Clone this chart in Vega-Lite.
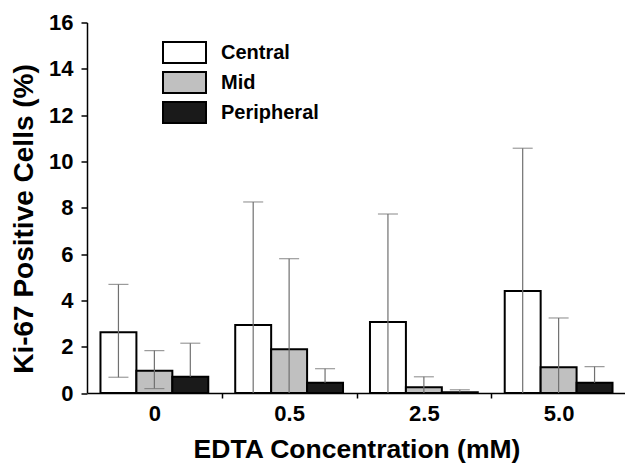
{
  "$schema": "https://vega.github.io/schema/vega-lite/v6.json",
  "width": 539,
  "height": 370.5,
  "autosize": {"type": "none"},
  "padding": {"left": 87, "top": 22.5, "right": 0, "bottom": 81},
  "background": "white",
  "config": {"view": {"stroke": null}, "font": "Liberation Sans"},
  "data": {
    "values": [
      {"conc": "0", "region": "Central", "mean": 2.62, "lo": 0.68, "hi": 4.69, "locap": 0.68},
      {"conc": "0", "region": "Mid", "mean": 0.96, "lo": 0.19, "hi": 1.83, "locap": 0.19},
      {"conc": "0", "region": "Peripheral", "mean": 0.7, "lo": 0.7, "hi": 2.15, "locap": null},
      {"conc": "0.5", "region": "Central", "mean": 2.94, "lo": 0, "hi": 8.25, "locap": null},
      {"conc": "0.5", "region": "Mid", "mean": 1.89, "lo": 0, "hi": 5.8, "locap": null},
      {"conc": "0.5", "region": "Peripheral", "mean": 0.44, "lo": 0.44, "hi": 1.05, "locap": null},
      {"conc": "2.5", "region": "Central", "mean": 3.07, "lo": 0, "hi": 7.73, "locap": null},
      {"conc": "2.5", "region": "Mid", "mean": 0.25, "lo": 0, "hi": 0.7, "locap": null},
      {"conc": "2.5", "region": "Peripheral", "mean": 0.03, "lo": 0.03, "hi": 0.14, "locap": null},
      {"conc": "5.0", "region": "Central", "mean": 4.4, "lo": 0, "hi": 10.57, "locap": null},
      {"conc": "5.0", "region": "Mid", "mean": 1.11, "lo": 0, "hi": 3.24, "locap": null},
      {"conc": "5.0", "region": "Peripheral", "mean": 0.44, "lo": 0.44, "hi": 1.14, "locap": null}
    ]
  },
  "encoding": {
    "x": {
      "field": "conc",
      "type": "nominal",
      "sort": ["0", "0.5", "2.5", "5.0"],
      "title": "EDTA Concentration (mM)",
      "scale": {"paddingInner": 0, "paddingOuter": 0},
      "axis": {
        "labelAngle": 0,
        "domainColor": "black",
        "domainWidth": 1.5,
        "tickColor": "black",
        "tickWidth": 1.5,
        "tickSize": 5,
        "tickOffset": 67.375,
        "labelOffset": -67.375,
        "labelFontSize": 22,
        "labelFontWeight": "bold",
        "labelColor": "black",
        "labelPadding": 5,
        "titleFontSize": 26.5,
        "titleFontWeight": "bold",
        "titleColor": "black",
        "titlePadding": 12
      }
    },
    "xOffset": {
      "field": "region",
      "type": "nominal",
      "sort": ["Central", "Mid", "Peripheral"],
      "scale": {"paddingInner": 0, "paddingOuter": 0.375}
    }
  },
  "layer": [
    {
      "mark": {"type": "bar", "stroke": "black", "strokeWidth": 2},
      "encoding": {
        "y": {
          "field": "mean",
          "type": "quantitative",
          "title": "Ki-67 Positive Cells (%)",
          "scale": {"domain": [0, 16], "nice": false},
          "axis": {
            "values": [0, 2, 4, 6, 8, 10, 12, 14, 16],
            "grid": false,
            "domainColor": "black",
            "domainWidth": 1.5,
            "tickColor": "black",
            "tickWidth": 1.5,
            "tickSize": 6,
            "labelFontSize": 22,
            "labelFontWeight": "bold",
            "labelColor": "black",
            "labelPadding": 8,
            "titleFontSize": 28,
            "titleFontWeight": "bold",
            "titleColor": "black",
            "titlePadding": 10,
            "titleY": 196
          }
        },
        "fill": {
          "field": "region",
          "type": "nominal",
          "scale": {"domain": ["Central", "Mid", "Peripheral"], "range": ["#ffffff", "#c0c0c0", "#1a1a1a"]},
          "legend": {
            "orient": "none",
            "legendX": 75,
            "legendY": 15,
            "title": null,
            "padding": 0,
            "symbolType": "M-1,-0.49H1V0.49H-1Z",
            "symbolSize": 1849,
            "symbolStrokeColor": "black",
            "symbolStrokeWidth": 2,
            "symbolOpacity": 1,
            "labelFontSize": 20,
            "labelFontWeight": "bold",
            "labelColor": "black",
            "labelOffset": 14,
            "clipHeight": 30,
            "rowPadding": 0
          }
        }
      }
    },
    {
      "mark": {"type": "rule", "color": "#707070", "strokeWidth": 1.2},
      "encoding": {
        "y": {"field": "lo", "type": "quantitative", "title": "Ki-67 Positive Cells (%)"},
        "y2": {"field": "hi"}
      }
    },
    {
      "mark": {"type": "tick", "color": "#707070", "thickness": 1.2, "size": 20, "orient": "horizontal"},
      "encoding": {
        "y": {"field": "hi", "type": "quantitative", "title": "Ki-67 Positive Cells (%)"}
      }
    },
    {
      "mark": {"type": "tick", "color": "#707070", "thickness": 1.2, "size": 20, "orient": "horizontal"},
      "encoding": {
        "y": {"field": "locap", "type": "quantitative", "title": "Ki-67 Positive Cells (%)"}
      }
    }
  ]
}
